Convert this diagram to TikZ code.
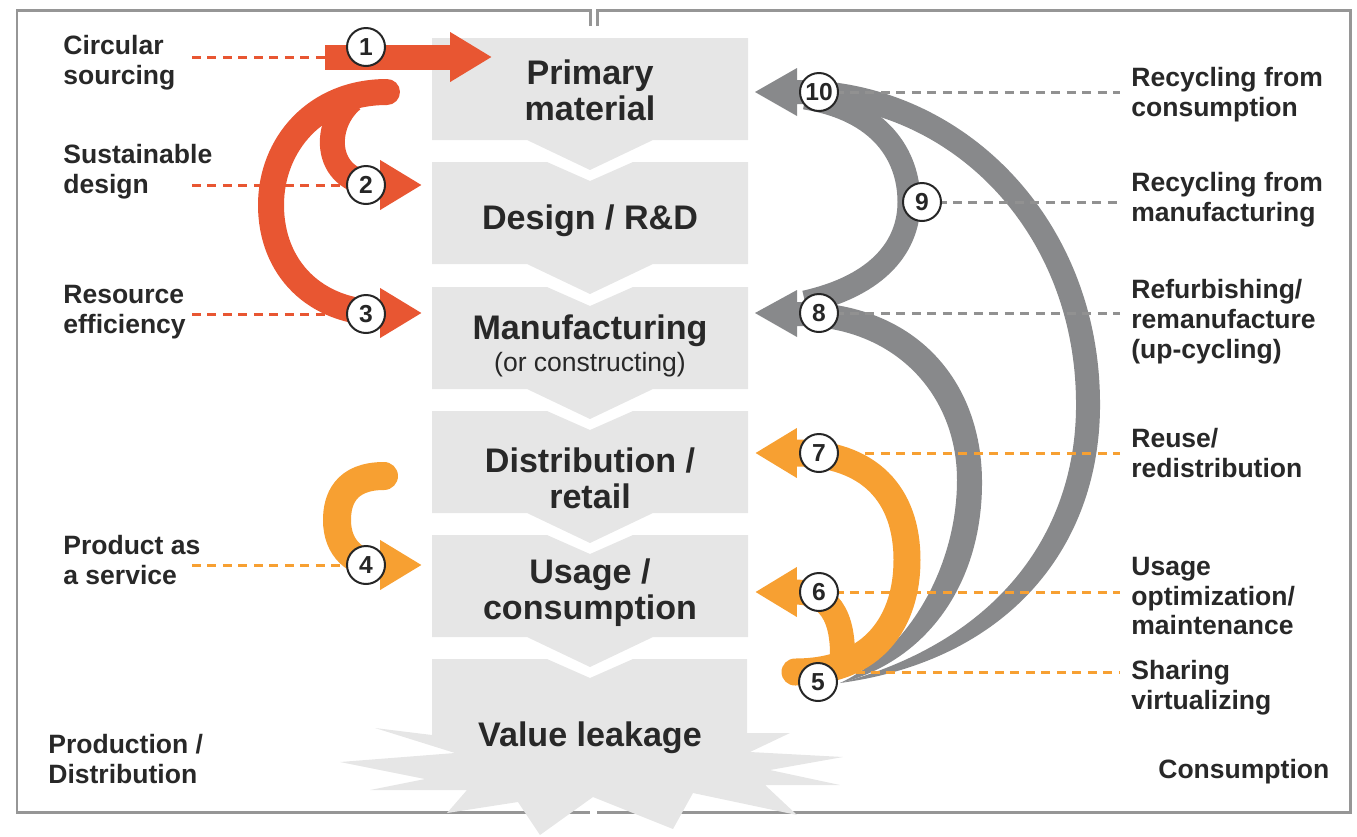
\documentclass[tikz,border=0pt]{standalone}
\usepackage{fontspec}
\setmainfont{Liberation Sans}
\usepackage{tikz}
\usetikzlibrary{arrows.meta,calc}
\definecolor{cered}{RGB}{232,86,50}
\definecolor{ceorange}{RGB}{247,160,50}
\definecolor{cegrey}{RGB}{136,137,139}
\definecolor{celightgrey}{RGB}{230,230,230}
\definecolor{ceframe}{RGB}{150,150,150}
\definecolor{cetext}{RGB}{40,40,40}
\definecolor{cedots}{RGB}{145,145,145}
\tikzstyle{bigarrow} = [line width=0.5cm, -{Triangle[length=0.84cm,width=0.94cm]}]
\tikzstyle{leader} = [line width=0.06cm, dash pattern=on 0.18cm off 0.13cm]
\tikzstyle{num} = [circle, draw=black!85, fill=white, line width=0.04cm, minimum size=0.76cm, inner sep=0pt, text=black!85, font=\fontsize{14}{14}\selectfont\bfseries]
\tikzstyle{sidetext} = [anchor=west, align=left, inner sep=0pt, text=cetext, font=\fontsize{15.1}{17}\selectfont\bfseries]
\tikzstyle{stage} = [align=center, inner sep=0pt, text=cetext, font=\fontsize{19.4}{20.5}\selectfont\bfseries]
\begin{document}
\begin{tikzpicture}[x=0.02cm, y=-0.02cm]
    \useasboundingbox (0,0) rectangle (1357,836);

    % Frames
    \draw[ceframe, line width=0.06cm] (590,26) -- (590,10) -- (17,10) -- (17,812) -- (590,812);
    \draw[ceframe, line width=0.06cm] (597,26) -- (597,10) -- (1350,10) -- (1350,812) -- (597,812);

    % Value chain
    \foreach \t/\n in {38/0,162/19,287/19,411/19,535/19}
        \fill[celightgrey] (432,\t) -- (547,\t) -- (590,{\t+\n}) -- (633,\t) -- (748,\t) -- (748,{\t+102}) -- (653,{\t+102}) -- (590,{\t+132}) -- (527,{\t+102}) -- (432,{\t+102}) -- cycle;
    \fill[celightgrey] (432,659) -- (547,659) -- (590,678) -- (633,659) -- (747,659) -- (747,733) -- (790,733) -- (750,752) -- (843,757) -- (770,770) -- (840,785) -- (765,785) -- (797,815) -- (693,793) -- (673,829) -- (593,797) -- (540,835) -- (518,802) -- (447,813) -- (467,790) -- (370,790) -- (425,779) -- (340,762) -- (455,753) -- (375,728) -- (432,735) -- cycle;

    \node[stage] (prim) at (590,90) {Primary\\material};
    \node[stage] (des) at (590,221) {Design / R\&D};
    \node[stage] (man) at (590,331) {Manufacturing};
    \node[stage, font=\fontsize{15.1}{17}\selectfont] (mansub) at (590,365) {(or constructing)};
    \node[stage] (dist) at (590,478) {Distribution /\\retail};
    \node[stage] (use) at (590,593) {Usage /\\consumption};
    \node[stage] (leak) at (590,738) {Value leakage};

    % Circle positions
    \coordinate (p1) at (366,47);
    \coordinate (p2) at (366,185);
    \coordinate (p3) at (366,314);
    \coordinate (p4) at (366,565);
    \coordinate (p5) at (818,682);
    \coordinate (p6) at (819,592);
    \coordinate (p7) at (819,453);
    \coordinate (p8) at (819,313);
    \coordinate (p9) at (922,202);
    \coordinate (p10) at (819,92);
    \coordinate (a1) at (325,57);
    \coordinate (l5) at (840,672);
    \coordinate (lx) at (192,0);
    \coordinate (rx) at (1120,0);

    % Production side
    \draw[bigarrow, cered] (a1) -- (492,57);
    \draw[bigarrow, cered, line width=0.52cm, line cap=round] (387,92) .. controls (315,92) and (271,145) .. (271,205) .. controls (271,268) and (315,313) .. (422,313);
    \draw[bigarrow, cered] (352,100) .. controls (322,125) and (322,185) .. (422,185);
    \draw[bigarrow, ceorange, line width=0.56cm, line cap=round] (384,476) .. controls (345,476) and (337,500) .. (337,520) .. controls (337,548) and (355,565) .. (422,565);

    % Consumption side
    \fill[cegrey] (840,683) .. controls (1010,660) and (1102,545) .. (1100,400) .. controls (1098,215) and (960,80) .. (797,80) -- (797,68) -- (755,92) -- (797,116) -- (797,104) .. controls (950,104) and (1074,230) .. (1076,400) .. controls (1078,530) and (1000,640) .. (840,683) -- cycle;
    \fill[cegrey] (840,683) .. controls (925,662) and (983,585) .. (982,480) .. controls (981,380) and (915,302) .. (797,302) -- (797,290) -- (755,313) -- (797,337) -- (797,326) .. controls (895,326) and (957,395) .. (957,480) .. controls (957,565) and (910,650) .. (840,683) -- cycle;
    \draw[cegrey, line width=0.46cm] (805,302) .. controls (880,285) and (909,245) .. (909,202) .. controls (909,155) and (880,110) .. (805,98);
    \draw[bigarrow, ceorange, line width=0.54cm, line cap=round] (795,672) .. controls (875,672) and (907,620) .. (907,560) .. controls (907,495) and (870,453) .. (755,453);
    \draw[bigarrow, ceorange] (842,668) .. controls (845,625) and (835,592) .. (755,592);

    % Leaders
    \draw[leader, cered] (lx |- a1) -- (a1);
    \draw[leader, cered] (lx |- p2) -- (p2);
    \draw[leader, cered] (lx |- p3) -- (p3);
    \draw[leader, ceorange] (lx |- p4) -- (p4);
    \draw[leader, cedots] (p10) -- (p10 -| rx);
    \draw[leader, cedots] (p9) -- (p9 -| rx);
    \draw[leader, cedots] (p8) -- (p8 -| rx);
    \draw[leader, ceorange] (p7) -- (p7 -| rx);
    \draw[leader, ceorange] (p6) -- (p6 -| rx);
    \draw[leader, ceorange] (l5) -- (l5 -| rx);

    % Numbers
    \foreach \i in {1,...,10}
        \node[num] (c\i) at (p\i) {\i};

    % Labels
    \node[sidetext] (l1) at (63,63) {Circular\\sourcing};
    \node[sidetext] (l2) at (63,172) {Sustainable\\design};
    \node[sidetext] (l3) at (63,312) {Resource\\efficiency};
    \node[sidetext] (l4) at (63,560) {Product as\\a service};
    \node[sidetext] (prod) at (48,759) {Production /\\Distribution};
    \node[sidetext] (r1) at (1131,95) {Recycling from\\consumption};
    \node[sidetext] (r2) at (1131,200) {Recycling from\\manufacturing};
    \node[sidetext] (r3) at (1131,322) {Refurbishing/\\remanufacture\\(up-cycling)};
    \node[sidetext] (r4) at (1131,453) {Reuse/\\redistribution};
    \node[sidetext] (r5) at (1131,596) {Usage\\optimization/\\maintenance};
    \node[sidetext] (r6) at (1131,688) {Sharing\\virtualizing};
    \node[sidetext] (cons) at (1158,772) {Consumption};
\end{tikzpicture}
\end{document}
